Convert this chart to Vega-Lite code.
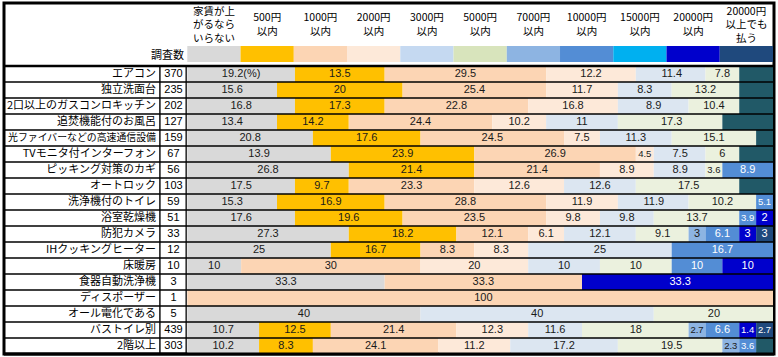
{
  "$schema": "https://vega.github.io/schema/vega-lite/v6.json",
  "width": 770,
  "height": 351,
  "autosize": {"type": "none"},
  "padding": {"left": 4, "top": 3, "right": 4, "bottom": 3},
  "background": "white",
  "config": {"view": {"stroke": "black", "strokeWidth": 3}, "font": "Liberation Sans"},
  "datasets": {
    "rows": [
      {"item": "エアコン", "n": 370},
      {"item": "独立洗面台", "n": 235},
      {"item": "2口以上のガスコンロキッチン", "n": 202},
      {"item": "追焚機能付のお風呂", "n": 127},
      {"item": "光ファイバーなどの高速通信設備", "n": 159},
      {"item": "TVモニタ付インターフォン", "n": 67},
      {"item": "ピッキング対策のカギ", "n": 56},
      {"item": "オートロック", "n": 103},
      {"item": "洗浄機付のトイレ", "n": 59},
      {"item": "浴室乾燥機", "n": 51},
      {"item": "防犯カメラ", "n": 33},
      {"item": "IHクッキングヒーター", "n": 12},
      {"item": "床暖房", "n": 10},
      {"item": "食器自動洗浄機", "n": 3},
      {"item": "ディスポーザー", "n": 1},
      {"item": "オール電化である", "n": 5},
      {"item": "バストイレ別", "n": 439},
      {"item": "2階以上", "n": 303}
    ],
    "heads": [
      {"cat": "家賃が上がるならいらない", "head": "家賃が上\nがるなら\nいらない"},
      {"cat": "500円以内", "head": "500円\n以内"},
      {"cat": "1000円以内", "head": "1000円\n以内"},
      {"cat": "2000円以内", "head": "2000円\n以内"},
      {"cat": "3000円以内", "head": "3000円\n以内"},
      {"cat": "5000円以内", "head": "5000円\n以内"},
      {"cat": "7000円以内", "head": "7000円\n以内"},
      {"cat": "10000円以内", "head": "10000円\n以内"},
      {"cat": "15000円以内", "head": "15000円\n以内"},
      {"cat": "20000円以内", "head": "20000円\n以内"},
      {"cat": "20000円以上でも払う", "head": "20000円\n以上でも\n払う"}
    ],
    "bars": [
      {"item": "エアコン", "k": 0, "cat": "家賃が上がるならいらない", "cells": 6, "label": "19.2(%)"},
      {"item": "エアコン", "k": 1, "cat": "500円以内", "cells": 5, "label": "13.5"},
      {"item": "エアコン", "k": 2, "cat": "1000円以内", "cells": 9, "label": "29.5"},
      {"item": "エアコン", "k": 3, "cat": "2000円以内", "cells": 5, "label": "12.2"},
      {"item": "エアコン", "k": 4, "cat": "3000円以内", "cells": 4, "label": "11.4"},
      {"item": "エアコン", "k": 5, "cat": "5000円以内", "cells": 2, "label": "7.8"},
      {"item": "エアコン", "k": 11, "cat": "不明", "cells": 2, "label": ""},

      {"item": "独立洗面台", "k": 0, "cat": "家賃が上がるならいらない", "cells": 5, "label": "15.6"},
      {"item": "独立洗面台", "k": 1, "cat": "500円以内", "cells": 7, "label": "20"},
      {"item": "独立洗面台", "k": 2, "cat": "1000円以内", "cells": 8, "label": "25.4"},
      {"item": "独立洗面台", "k": 3, "cat": "2000円以内", "cells": 4, "label": "11.7"},
      {"item": "独立洗面台", "k": 4, "cat": "3000円以内", "cells": 3, "label": "8.3"},
      {"item": "独立洗面台", "k": 5, "cat": "5000円以内", "cells": 4, "label": "13.2"},
      {"item": "独立洗面台", "k": 11, "cat": "不明", "cells": 2, "label": ""},

      {"item": "2口以上のガスコンロキッチン", "k": 0, "cat": "家賃が上がるならいらない", "cells": 6, "label": "16.8"},
      {"item": "2口以上のガスコンロキッチン", "k": 1, "cat": "500円以内", "cells": 5, "label": "17.3"},
      {"item": "2口以上のガスコンロキッチン", "k": 2, "cat": "1000円以内", "cells": 8, "label": "22.8"},
      {"item": "2口以上のガスコンロキッチン", "k": 3, "cat": "2000円以内", "cells": 5, "label": "16.8"},
      {"item": "2口以上のガスコンロキッチン", "k": 4, "cat": "3000円以内", "cells": 4, "label": "8.9"},
      {"item": "2口以上のガスコンロキッチン", "k": 5, "cat": "5000円以内", "cells": 3, "label": "10.4"},
      {"item": "2口以上のガスコンロキッチン", "k": 11, "cat": "不明", "cells": 2, "label": ""},

      {"item": "追焚機能付のお風呂", "k": 0, "cat": "家賃が上がるならいらない", "cells": 5, "label": "13.4"},
      {"item": "追焚機能付のお風呂", "k": 1, "cat": "500円以内", "cells": 4, "label": "14.2"},
      {"item": "追焚機能付のお風呂", "k": 2, "cat": "1000円以内", "cells": 8, "label": "24.4"},
      {"item": "追焚機能付のお風呂", "k": 3, "cat": "2000円以内", "cells": 3, "label": "10.2"},
      {"item": "追焚機能付のお風呂", "k": 4, "cat": "3000円以内", "cells": 4, "label": "11"},
      {"item": "追焚機能付のお風呂", "k": 5, "cat": "5000円以内", "cells": 6, "label": "17.3"},
      {"item": "追焚機能付のお風呂", "k": 11, "cat": "不明", "cells": 3, "label": ""},

      {"item": "光ファイバーなどの高速通信設備", "k": 0, "cat": "家賃が上がるならいらない", "cells": 7, "label": "20.8"},
      {"item": "光ファイバーなどの高速通信設備", "k": 1, "cat": "500円以内", "cells": 6, "label": "17.6"},
      {"item": "光ファイバーなどの高速通信設備", "k": 2, "cat": "1000円以内", "cells": 8, "label": "24.5"},
      {"item": "光ファイバーなどの高速通信設備", "k": 3, "cat": "2000円以内", "cells": 2, "label": "7.5"},
      {"item": "光ファイバーなどの高速通信設備", "k": 4, "cat": "3000円以内", "cells": 4, "label": "11.3"},
      {"item": "光ファイバーなどの高速通信設備", "k": 5, "cat": "5000円以内", "cells": 5, "label": "15.1"},
      {"item": "光ファイバーなどの高速通信設備", "k": 11, "cat": "不明", "cells": 1, "label": ""},

      {"item": "TVモニタ付インターフォン", "k": 0, "cat": "家賃が上がるならいらない", "cells": 8, "label": "13.9"},
      {"item": "TVモニタ付インターフォン", "k": 1, "cat": "500円以内", "cells": 8, "label": "23.9"},
      {"item": "TVモニタ付インターフォン", "k": 2, "cat": "1000円以内", "cells": 9, "label": "26.9"},
      {"item": "TVモニタ付インターフォン", "k": 3, "cat": "2000円以内", "cells": 1, "label": "4.5"},
      {"item": "TVモニタ付インターフォン", "k": 4, "cat": "3000円以内", "cells": 3, "label": "7.5"},
      {"item": "TVモニタ付インターフォン", "k": 5, "cat": "5000円以内", "cells": 2, "label": "6"},
      {"item": "TVモニタ付インターフォン", "k": 11, "cat": "不明", "cells": 2, "label": ""},

      {"item": "ピッキング対策のカギ", "k": 0, "cat": "家賃が上がるならいらない", "cells": 9, "label": "26.8"},
      {"item": "ピッキング対策のカギ", "k": 1, "cat": "500円以内", "cells": 7, "label": "21.4"},
      {"item": "ピッキング対策のカギ", "k": 2, "cat": "1000円以内", "cells": 7, "label": "21.4"},
      {"item": "ピッキング対策のカギ", "k": 3, "cat": "2000円以内", "cells": 3, "label": "8.9"},
      {"item": "ピッキング対策のカギ", "k": 4, "cat": "3000円以内", "cells": 3, "label": "8.9"},
      {"item": "ピッキング対策のカギ", "k": 5, "cat": "5000円以内", "cells": 1, "label": "3.6"},
      {"item": "ピッキング対策のカギ", "k": 7, "cat": "10000円以内", "cells": 3, "label": "8.9"},

      {"item": "オートロック", "k": 0, "cat": "家賃が上がるならいらない", "cells": 6, "label": "17.5"},
      {"item": "オートロック", "k": 1, "cat": "500円以内", "cells": 3, "label": "9.7"},
      {"item": "オートロック", "k": 2, "cat": "1000円以内", "cells": 7, "label": "23.3"},
      {"item": "オートロック", "k": 3, "cat": "2000円以内", "cells": 5, "label": "12.6"},
      {"item": "オートロック", "k": 4, "cat": "3000円以内", "cells": 4, "label": "12.6"},
      {"item": "オートロック", "k": 5, "cat": "5000円以内", "cells": 6, "label": "17.5"},
      {"item": "オートロック", "k": 11, "cat": "不明", "cells": 2, "label": ""},

      {"item": "洗浄機付のトイレ", "k": 0, "cat": "家賃が上がるならいらない", "cells": 5, "label": "15.3"},
      {"item": "洗浄機付のトイレ", "k": 1, "cat": "500円以内", "cells": 6, "label": "16.9"},
      {"item": "洗浄機付のトイレ", "k": 2, "cat": "1000円以内", "cells": 9, "label": "28.8"},
      {"item": "洗浄機付のトイレ", "k": 3, "cat": "2000円以内", "cells": 4, "label": "11.9"},
      {"item": "洗浄機付のトイレ", "k": 4, "cat": "3000円以内", "cells": 4, "label": "11.9"},
      {"item": "洗浄機付のトイレ", "k": 5, "cat": "5000円以内", "cells": 4, "label": "10.2"},
      {"item": "洗浄機付のトイレ", "k": 7, "cat": "10000円以内", "cells": 1, "label": "5.1"},

      {"item": "浴室乾燥機", "k": 0, "cat": "家賃が上がるならいらない", "cells": 6, "label": "17.6"},
      {"item": "浴室乾燥機", "k": 1, "cat": "500円以内", "cells": 6, "label": "19.6"},
      {"item": "浴室乾燥機", "k": 2, "cat": "1000円以内", "cells": 8, "label": "23.5"},
      {"item": "浴室乾燥機", "k": 3, "cat": "2000円以内", "cells": 3, "label": "9.8"},
      {"item": "浴室乾燥機", "k": 4, "cat": "3000円以内", "cells": 3, "label": "9.8"},
      {"item": "浴室乾燥機", "k": 5, "cat": "5000円以内", "cells": 5, "label": "13.7"},
      {"item": "浴室乾燥機", "k": 7, "cat": "10000円以内", "cells": 1, "label": "3.9"},
      {"item": "浴室乾燥機", "k": 9, "cat": "20000円以内", "cells": 1, "label": "2"},

      {"item": "防犯カメラ", "k": 0, "cat": "家賃が上がるならいらない", "cells": 9, "label": "27.3"},
      {"item": "防犯カメラ", "k": 1, "cat": "500円以内", "cells": 6, "label": "18.2"},
      {"item": "防犯カメラ", "k": 2, "cat": "1000円以内", "cells": 4, "label": "12.1"},
      {"item": "防犯カメラ", "k": 3, "cat": "2000円以内", "cells": 2, "label": "6.1"},
      {"item": "防犯カメラ", "k": 4, "cat": "3000円以内", "cells": 4, "label": "12.1"},
      {"item": "防犯カメラ", "k": 5, "cat": "5000円以内", "cells": 3, "label": "9.1"},
      {"item": "防犯カメラ", "k": 6, "cat": "7000円以内", "cells": 1, "label": "3"},
      {"item": "防犯カメラ", "k": 7, "cat": "10000円以内", "cells": 2, "label": "6.1"},
      {"item": "防犯カメラ", "k": 9, "cat": "20000円以内", "cells": 1, "label": "3"},
      {"item": "防犯カメラ", "k": 10, "cat": "20000円以上でも払う", "cells": 1, "label": "3"},

      {"item": "IHクッキングヒーター", "k": 0, "cat": "家賃が上がるならいらない", "cells": 8, "label": "25"},
      {"item": "IHクッキングヒーター", "k": 1, "cat": "500円以内", "cells": 5, "label": "16.7"},
      {"item": "IHクッキングヒーター", "k": 2, "cat": "1000円以内", "cells": 3, "label": "8.3"},
      {"item": "IHクッキングヒーター", "k": 3, "cat": "2000円以内", "cells": 3, "label": "8.3"},
      {"item": "IHクッキングヒーター", "k": 4, "cat": "3000円以内", "cells": 8, "label": "25"},
      {"item": "IHクッキングヒーター", "k": 7, "cat": "10000円以内", "cells": 6, "label": "16.7"},

      {"item": "床暖房", "k": 0, "cat": "家賃が上がるならいらない", "cells": 3, "label": "10"},
      {"item": "床暖房", "k": 2, "cat": "1000円以内", "cells": 10, "label": "30"},
      {"item": "床暖房", "k": 3, "cat": "2000円以内", "cells": 6, "label": "20"},
      {"item": "床暖房", "k": 4, "cat": "3000円以内", "cells": 4, "label": "10"},
      {"item": "床暖房", "k": 5, "cat": "5000円以内", "cells": 4, "label": "10"},
      {"item": "床暖房", "k": 7, "cat": "10000円以内", "cells": 3, "label": "10"},
      {"item": "床暖房", "k": 9, "cat": "20000円以内", "cells": 3, "label": "10"},

      {"item": "食器自動洗浄機", "k": 0, "cat": "家賃が上がるならいらない", "cells": 11, "label": "33.3"},
      {"item": "食器自動洗浄機", "k": 2, "cat": "1000円以内", "cells": 11, "label": "33.3"},
      {"item": "食器自動洗浄機", "k": 9, "cat": "20000円以内", "cells": 11, "label": "33.3"},

      {"item": "ディスポーザー", "k": 2, "cat": "1000円以内", "cells": 33, "label": "100"},

      {"item": "オール電化である", "k": 0, "cat": "家賃が上がるならいらない", "cells": 13, "label": "40"},
      {"item": "オール電化である", "k": 4, "cat": "3000円以内", "cells": 13, "label": "40"},
      {"item": "オール電化である", "k": 5, "cat": "5000円以内", "cells": 7, "label": "20"},

      {"item": "バストイレ別", "k": 0, "cat": "家賃が上がるならいらない", "cells": 4, "label": "10.7"},
      {"item": "バストイレ別", "k": 1, "cat": "500円以内", "cells": 4, "label": "12.5"},
      {"item": "バストイレ別", "k": 2, "cat": "1000円以内", "cells": 7, "label": "21.4"},
      {"item": "バストイレ別", "k": 3, "cat": "2000円以内", "cells": 4, "label": "12.3"},
      {"item": "バストイレ別", "k": 4, "cat": "3000円以内", "cells": 3, "label": "11.6"},
      {"item": "バストイレ別", "k": 5, "cat": "5000円以内", "cells": 6, "label": "18"},
      {"item": "バストイレ別", "k": 6, "cat": "7000円以内", "cells": 1, "label": "2.7"},
      {"item": "バストイレ別", "k": 7, "cat": "10000円以内", "cells": 2, "label": "6.6"},
      {"item": "バストイレ別", "k": 9, "cat": "20000円以内", "cells": 1, "label": "1.4"},
      {"item": "バストイレ別", "k": 10, "cat": "20000円以上でも払う", "cells": 1, "label": "2.7"},

      {"item": "2階以上", "k": 0, "cat": "家賃が上がるならいらない", "cells": 4, "label": "10.2"},
      {"item": "2階以上", "k": 1, "cat": "500円以内", "cells": 3, "label": "8.3"},
      {"item": "2階以上", "k": 2, "cat": "1000円以内", "cells": 7, "label": "24.1"},
      {"item": "2階以上", "k": 3, "cat": "2000円以内", "cells": 4, "label": "11.2"},
      {"item": "2階以上", "k": 4, "cat": "3000円以内", "cells": 6, "label": "17.2"},
      {"item": "2階以上", "k": 5, "cat": "5000円以内", "cells": 6, "label": "19.5"},
      {"item": "2階以上", "k": 6, "cat": "7000円以内", "cells": 1, "label": "2.3"},
      {"item": "2階以上", "k": 7, "cat": "10000円以内", "cells": 1, "label": "3.6"},
      {"item": "2階以上", "k": 11, "cat": "不明", "cells": 1, "label": ""}
    ]
  },
  "resolve": {"scale": {"x": "independent", "color": "independent"}},
  "layer": [
    {
      "layer": [
        {
          "data": {"name": "bars"},
          "mark": {"type": "bar"},
          "encoding": {
            "x": {"field": "cells", "type": "quantitative", "stack": "zero", "axis": null,
                  "scale": {"domain": [-10.217, 27, 33], "range": [0, 667.7, 769], "nice": false, "zero": false}},
            "y": {"field": "item", "type": "nominal", "axis": null,
                  "scale": {"domain": ["h0", "h1", "h2", "h3", "エアコン", "独立洗面台", "2口以上のガスコンロキッチン", "追焚機能付のお風呂", "光ファイバーなどの高速通信設備", "TVモニタ付インターフォン", "ピッキング対策のカギ", "オートロック", "洗浄機付のトイレ", "浴室乾燥機", "防犯カメラ", "IHクッキングヒーター", "床暖房", "食器自動洗浄機", "ディスポーザー", "オール電化である", "バストイレ別", "2階以上"],
                            "range": [-1, 351], "paddingInner": 0, "paddingOuter": 0}},
            "color": {"field": "cat", "type": "nominal", "legend": null,
                      "scale": {"domain": ["家賃が上がるならいらない", "500円以内", "1000円以内", "2000円以内", "3000円以内", "5000円以内", "7000円以内", "10000円以内", "15000円以内", "20000円以内", "20000円以上でも払う", "不明"],
                                "range": ["#D9D9D9", "#FFC000", "#FCD5B4", "#FDE9D9", "#DCE6F1", "#EBF1DE", "#8DB4E2", "#538DD5", "#00B0F0", "#0000CC", "#1F497D", "#215967"]}},
            "order": {"field": "k", "type": "quantitative"}
          }
        },
        {
          "data": {"name": "bars"},
          "mark": {"type": "text", "baseline": "middle", "align": "center", "font": "Liberation Sans"},
          "encoding": {
            "x": {"field": "cells", "type": "quantitative", "stack": "zero", "bandPosition": 0.5, "axis": null},
            "y": {"field": "item", "type": "nominal", "axis": null},
            "detail": {"field": "cat"},
            "order": {"field": "k", "type": "quantitative"},
            "text": {"field": "label"},
            "color": {"condition": {"test": "datum.k >= 7", "value": "white"}, "value": "#1a1a1a"},
            "size": {"condition": {"test": "datum.cells == 1 && length(datum.label) > 1", "value": 9.5}, "value": 11}
          }
        },
        {
          "data": {"name": "rows"},
          "mark": {"type": "text", "align": "right", "baseline": "middle", "font": "Noto Sans CJK JP", "color": "#000"},
          "encoding": {
            "x": {"datum": -1.745, "type": "quantitative", "axis": null},
            "y": {"field": "item", "type": "nominal", "axis": null},
            "text": {"field": "item"},
            "size": {"condition": {"test": "length(datum.item) >= 15", "value": 9.9}, "value": 11}
          }
        },
        {
          "data": {"name": "rows"},
          "mark": {"type": "text", "align": "center", "baseline": "middle", "font": "Liberation Sans", "fontSize": 11, "color": "#000"},
          "encoding": {
            "x": {"datum": -0.77, "type": "quantitative", "axis": null},
            "y": {"field": "item", "type": "nominal", "axis": null},
            "text": {"field": "n"}
          }
        },
        {
          "data": {"values": [{"t": "調査数"}]},
          "mark": {"type": "text", "align": "right", "baseline": "middle", "font": "Noto Sans CJK JP", "fontSize": 11, "color": "#000", "dy": -2},
          "encoding": {
            "x": {"datum": -0.18, "type": "quantitative", "axis": null},
            "y": {"datum": "h3", "type": "nominal", "axis": null},
            "text": {"field": "t"}
          }
        },
        {
          "data": {"name": "rows"},
          "mark": {"type": "rule", "color": "black", "strokeWidth": 1.3},
          "encoding": {
            "y": {"field": "item", "type": "nominal", "bandPosition": 0, "axis": null}
          }
        },
        {
          "data": {"values": [{}]},
          "mark": {"type": "rule", "color": "black", "strokeWidth": 2.5},
          "encoding": {
            "y": {"datum": "エアコン", "type": "nominal", "bandPosition": 0, "axis": null}
          }
        },
        {
          "data": {"values": [{}]},
          "mark": {"type": "rule", "color": "black", "strokeWidth": 3},
          "encoding": {
            "y": {"datum": "2階以上", "type": "nominal", "bandPosition": 1, "axis": null}
          }
        },
        {
          "data": {"name": "rows"},
          "mark": {"type": "rect", "color": "black"},
          "encoding": {
            "x": {"datum": -1.566, "type": "quantitative", "axis": null},
            "x2": {"datum": -1.488},
            "y": {"field": "item", "type": "nominal", "axis": null}
          }
        },
        {
          "data": {"name": "rows"},
          "mark": {"type": "rect", "color": "black"},
          "encoding": {
            "x": {"datum": -0.10, "type": "quantitative", "axis": null},
            "x2": {"datum": -0.028},
            "y": {"field": "item", "type": "nominal", "axis": null}
          }
        }
      ]
    },
    {
      "layer": [
        {
          "data": {"name": "heads"},
          "mark": {"type": "bar", "yOffset": -4, "y2Offset": -4},
          "encoding": {
            "x": {"field": "cat", "type": "nominal", "axis": null, "sort": null,
                  "scale": {"domain": ["家賃が上がるならいらない", "500円以内", "1000円以内", "2000円以内", "3000円以内", "5000円以内", "7000円以内", "10000円以内", "15000円以内", "20000円以内", "20000円以上でも払う"],
                            "range": [183.3, 769], "paddingInner": 0, "paddingOuter": 0}},
            "y": {"datum": "h3", "type": "nominal", "axis": null},
            "color": {"field": "cat", "type": "nominal", "legend": null,
                      "scale": {"domain": ["家賃が上がるならいらない", "500円以内", "1000円以内", "2000円以内", "3000円以内", "5000円以内", "7000円以内", "10000円以内", "15000円以内", "20000円以内", "20000円以上でも払う"],
                                "range": ["#D9D9D9", "#FFC000", "#FCD5B4", "#FDE9D9", "#C5D9F1", "#D8E4BC", "#8DB4E2", "#538DD5", "#00B0F0", "#0000CC", "#1F497D"]}}
          }
        },
        {
          "data": {"name": "heads"},
          "transform": [{"filter": "length(split(datum.head, '\\n')) == 2"}],
          "mark": {"type": "text", "lineBreak": "\n", "lineHeight": 14.5, "baseline": "middle", "align": "center", "font": "Noto Sans CJK JP", "fontSize": 10.5, "color": "#000", "dy": -8.5},
          "encoding": {
            "x": {"field": "cat", "type": "nominal", "axis": null},
            "y": {"datum": "h1", "type": "nominal", "axis": null},
            "text": {"field": "head"}
          }
        },
        {
          "data": {"name": "heads"},
          "transform": [{"filter": "length(split(datum.head, '\\n')) == 3"}],
          "mark": {"type": "text", "lineBreak": "\n", "lineHeight": 13.8, "baseline": "middle", "align": "center", "font": "Noto Sans CJK JP", "fontSize": 10.5, "color": "#000", "dy": -14.5},
          "encoding": {
            "x": {"field": "cat", "type": "nominal", "axis": null},
            "y": {"datum": "h1", "type": "nominal", "axis": null},
            "text": {"field": "head"}
          }
        }
      ]
    }
  ]
}
